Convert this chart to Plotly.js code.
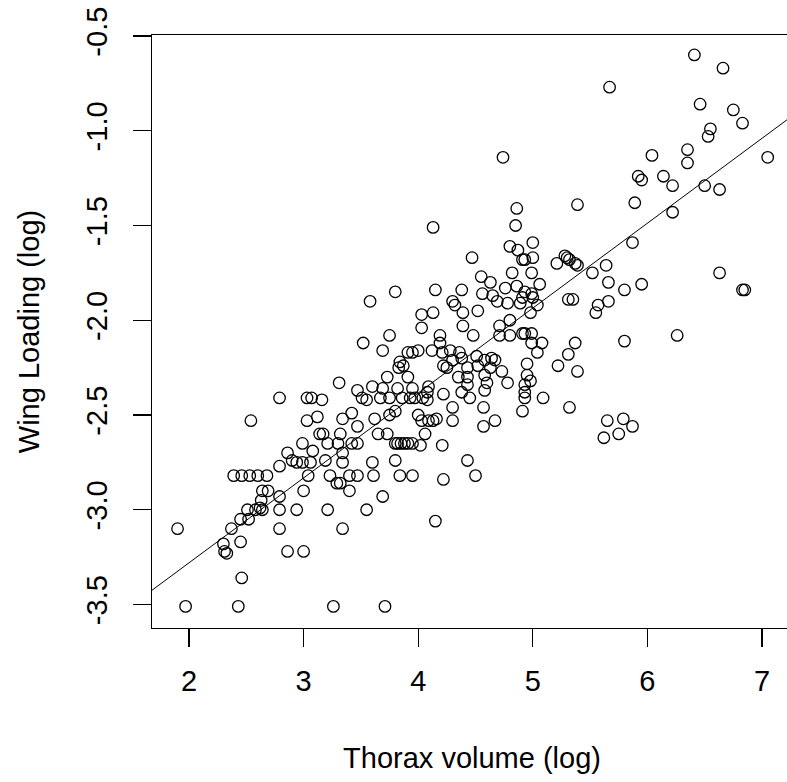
<!DOCTYPE html>
<html>
<head>
<meta charset="utf-8">
<script src="https://cdn.plot.ly/plotly-3.0.1.min.js"></script>
<style>
  html, body { margin: 0; padding: 0; overflow: hidden; background: #fff; width: 787px; height: 782px; }
  #chart { width: 800px; height: 782px; }
</style>
</head>
<body>
<div id="chart"></div>
<script>
// Thorax volume (log) for each specimen
const thoraxVolume = [
  1.97, 2.43, 1.90, 2.46, 2.30, 2.31, 2.33, 2.37, 2.45, 2.45, 2.52, 2.51, 2.58, 2.64, 2.63, 2.62,
  2.64, 2.69, 2.79, 2.79, 2.79, 2.86, 3.00, 2.94, 3.00, 2.39, 2.46, 2.53, 2.60, 2.68, 2.79, 2.90,
  2.94, 2.99, 2.86, 2.99, 2.79, 2.54, 3.03, 3.03, 3.07, 3.04, 3.08, 3.06, 3.19, 3.12, 3.34, 3.42,
  3.62, 3.75, 3.80, 4.00, 4.03, 3.14, 3.17, 3.32, 3.47, 3.65, 3.73, 3.80, 3.82, 3.85, 3.88, 3.91,
  3.95, 3.21, 3.30, 3.42, 3.47, 3.34, 3.34, 3.60, 3.80, 3.23, 3.29, 3.32, 3.40, 3.47, 3.61, 3.84,
  3.95, 3.40, 3.69, 3.21, 3.55, 3.34, 3.26, 3.71, 4.15, 3.80, 3.58, 4.03, 4.03, 3.75, 3.52, 3.69,
  4.00, 3.91, 3.84, 3.87, 3.83, 3.73, 3.91, 3.31, 3.47, 3.60, 3.69, 3.82, 3.95, 3.51, 3.55, 3.67,
  3.75, 3.86, 3.93, 3.16, 4.74, 4.86, 4.85, 4.13, 4.47, 4.80, 4.87, 4.93, 5.00, 4.82, 4.99, 4.55,
  4.63, 4.15, 4.38, 4.56, 4.65, 4.76, 4.86, 4.93, 4.30, 4.32, 4.69, 4.78, 4.89, 4.13, 4.39, 4.52,
  4.98, 4.39, 4.71, 4.80, 4.48, 4.19, 4.19, 4.71, 4.80, 4.91, 4.99, 4.99, 4.12, 4.28, 4.36, 4.21,
  3.95, 4.51, 4.58, 4.64, 4.67, 4.30, 4.38, 4.22, 4.25, 4.43, 4.52, 4.95, 4.63, 4.73, 4.35, 4.43,
  4.58, 4.60, 4.95, 4.98, 4.78, 4.43, 4.93, 4.93, 4.93, 4.58, 4.09, 4.08, 4.04, 4.08, 3.97, 4.22,
  4.38, 4.45, 4.91, 4.57, 4.30, 4.30, 4.09, 4.13, 4.16, 4.67, 4.57, 4.06, 4.02, 4.21, 4.43, 4.22,
  4.50, 6.04, 5.92, 5.95, 5.39, 5.89, 5.87, 4.91, 5.28, 5.30, 5.32, 5.37, 5.39, 5.21, 5.52, 5.64,
  5.66, 5.80, 5.95, 5.06, 4.99, 4.91, 5.31, 5.35, 5.66, 5.57, 5.55, 5.04, 4.93, 5.08, 5.04, 5.37,
  5.31, 5.22, 5.39, 5.80, 5.09, 5.32, 5.65, 5.79, 5.87, 5.75, 5.62, 5.67, 6.41, 6.66, 6.46, 6.75,
  6.83, 6.55, 6.53, 6.35, 6.35, 7.05, 6.14, 6.22, 6.50, 6.63, 6.22, 6.63, 6.83, 6.85, 6.26, 5.00,
  5.00
];
// Wing loading (log) for each specimen
const wingLoading = [
  -3.51, -3.51, -3.10, -3.36, -3.18, -3.22, -3.23, -3.10, -3.17, -3.05, -3.05, -3.00, -3.00, -3.00, -2.95, -2.99,
  -2.90, -2.90, -2.93, -3.00, -3.10, -3.22, -3.22, -3.00, -2.90, -2.82, -2.82, -2.82, -2.82, -2.82, -2.77, -2.74,
  -2.75, -2.75, -2.70, -2.65, -2.41, -2.53, -2.53, -2.41, -2.41, -2.82, -2.69, -2.75, -2.74, -2.51, -2.52, -2.49,
  -2.52, -2.50, -2.48, -2.50, -2.53, -2.60, -2.60, -2.60, -2.56, -2.60, -2.60, -2.65, -2.65, -2.65, -2.65, -2.65,
  -2.65, -2.65, -2.65, -2.65, -2.65, -2.70, -2.75, -2.75, -2.74, -2.82, -2.86, -2.86, -2.82, -2.82, -2.82, -2.82,
  -2.82, -2.90, -2.93, -3.00, -3.00, -3.10, -3.51, -3.51, -3.06, -1.85, -1.90, -1.97, -2.04, -2.08, -2.12, -2.16,
  -2.16, -2.17, -2.22, -2.24, -2.25, -2.30, -2.30, -2.33, -2.37, -2.35, -2.36, -2.36, -2.36, -2.41, -2.42, -2.41,
  -2.41, -2.41, -2.41, -2.42, -1.14, -1.41, -1.50, -1.51, -1.67, -1.61, -1.63, -1.68, -1.59, -1.75, -1.75, -1.77,
  -1.80, -1.84, -1.84, -1.86, -1.87, -1.83, -1.82, -1.85, -1.90, -1.92, -1.90, -1.91, -1.91, -1.96, -1.96, -1.95,
  -1.96, -2.03, -2.03, -2.00, -2.08, -2.08, -2.12, -2.08, -2.08, -2.07, -2.07, -2.12, -2.16, -2.16, -2.17, -2.17,
  -2.17, -2.19, -2.21, -2.20, -2.21, -2.21, -2.20, -2.24, -2.25, -2.25, -2.24, -2.23, -2.25, -2.27, -2.30, -2.30,
  -2.29, -2.33, -2.29, -2.32, -2.33, -2.34, -2.34, -2.38, -2.41, -2.37, -2.35, -2.38, -2.41, -2.42, -2.41, -2.39,
  -2.38, -2.41, -2.48, -2.46, -2.46, -2.53, -2.53, -2.53, -2.52, -2.53, -2.56, -2.60, -2.66, -2.66, -2.74, -2.84,
  -2.82, -1.13, -1.24, -1.26, -1.39, -1.38, -1.59, -1.68, -1.66, -1.67, -1.68, -1.70, -1.71, -1.70, -1.75, -1.71,
  -1.80, -1.84, -1.81, -1.81, -1.86, -1.88, -1.89, -1.89, -1.90, -1.92, -1.96, -1.92, -2.07, -2.12, -2.17, -2.12,
  -2.18, -2.24, -2.27, -2.11, -2.41, -2.46, -2.53, -2.52, -2.56, -2.60, -2.62, -0.77, -0.60, -0.67, -0.86, -0.89,
  -0.96, -0.99, -1.03, -1.10, -1.17, -1.14, -1.24, -1.29, -1.29, -1.31, -1.43, -1.75, -1.84, -1.84, -2.08, -1.67,
  -1.88
];
// Least-squares line shown on the chart (intercept, slope)
const fitIntercept = -4.176;
const fitSlope = 0.448;
// Tick labels
const xTicks = [2, 3, 4, 5, 6, 7];
const xTickText = ["2", "3", "4", "5", "6", "7"];
const yTicks = [-3.5, -3.0, -2.5, -2.0, -1.5, -1.0, -0.5];
const yTickText = ["-3.5", "-3.0", "-2.5", "-2.0", "-1.5", "-1.0", "-0.5"];

const xRange = [1.677, 7.262];
const yRange = [-3.624, -0.4947];

const fitX = xRange.slice();
const fitY = fitX.map(v => fitIntercept + fitSlope * v);

const FONT = "Liberation Sans, Arial, sans-serif";

const traces = [
  {
    type: "scatter",
    mode: "markers",
    x: thoraxVolume,
    y: wingLoading,
    marker: { symbol: "circle-open", size: 11.5, color: "#000", line: { color: "#000", width: 1.3 } },
    hoverinfo: "x+y",
    showlegend: false
  },
  {
    type: "scatter",
    mode: "lines",
    x: fitX,
    y: fitY,
    line: { color: "#000", width: 1 },
    hoverinfo: "skip",
    showlegend: false
  }
];

const layout = {
  width: 800,
  height: 782,
  margin: { l: 152, r: 8, t: 35, b: 154 },
  paper_bgcolor: "#fff",
  plot_bgcolor: "#fff",
  font: { family: FONT, size: 29, color: "#000" },
  showlegend: false,
  xaxis: {
    range: xRange,
    tickmode: "array",
    tickvals: xTicks,
    ticktext: xTickText,
    ticks: "outside",
    ticklen: 18,
    tickwidth: 1.3,
    tickcolor: "#000",
    showline: true,
    mirror: true,
    linecolor: "#000",
    linewidth: 1.3,
    showgrid: false,
    zeroline: false,
    tickfont: { family: FONT, size: 29, color: "#000" },
    ticklabelstandoff: 9,
    title: { text: "Thorax volume (log)", font: { family: FONT, size: 29, color: "#000" }, standoff: 51 }
  },
  yaxis: {
    range: yRange,
    tickmode: "array",
    tickvals: yTicks,
    ticktext: yTickText,
    ticks: "outside",
    ticklen: 18,
    tickwidth: 1.3,
    tickcolor: "#000",
    tickangle: -90,
    showline: true,
    mirror: false,
    linecolor: "#000",
    linewidth: 1.3,
    showgrid: false,
    zeroline: false,
    tickfont: { family: FONT, size: 29, color: "#000" },
    ticklabelstandoff: 14,
    title: { text: "Wing Loading (log)", font: { family: FONT, size: 29, color: "#000" }, standoff: 33 }
  }
};

Plotly.newPlot("chart", traces, layout, { displayModeBar: false, staticPlot: true });
</script>
</body>
</html>
